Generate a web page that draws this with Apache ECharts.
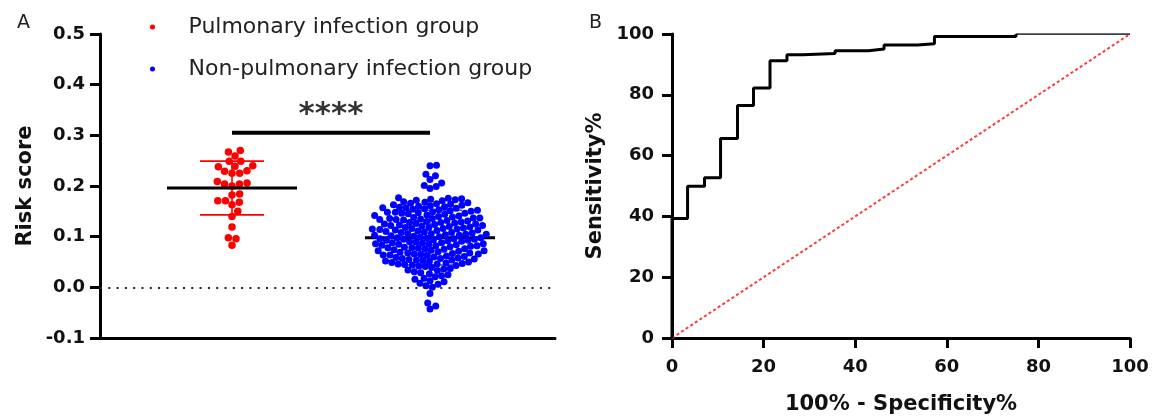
<!DOCTYPE html>
<html>
<head>
<meta charset="utf-8">
<script src="https://cdn.jsdelivr.net/npm/echarts@6/dist/echarts.min.js"></script>
<style>
html,body{margin:0;padding:0;background:#fff;}
#chart{width:1156px;height:420px;}
</style>
</head>
<body>
<div id="chart"></div>
<script>
// ---------------- DATA ----------------
const groups = ['Pulmonary infection group', 'Non-pulmonary infection group'];
const groupColors = ['#ff0000', '#0000ff'];

const pulmonaryScores = [
  0.267, 0.270, 0.259, 0.249, 0.249, 0.238, 0.240, 0.239, 0.225, 0.225,
  0.230, 0.229, 0.204, 0.209, 0.206, 0.204, 0.200, 0.184, 0.182, 0.171,
  0.171, 0.168, 0.163, 0.150, 0.140, 0.119, 0.098, 0.096, 0.083
];

const nonPulmonaryScores = [
  0.241, 0.240, 0.223, 0.220, 0.213, 0.206, 0.201, 0.199, 0.195,
  0.177, 0.175, 0.174, 0.172, 0.171, 0.176, 0.173,
  0.169, 0.167, 0.166, 0.164, 0.163, 0.168, 0.161, 0.165, 0.162, 0.160,
  0.159, 0.157, 0.158, 0.155, 0.154, 0.156, 0.152, 0.153, 0.151, 0.157, 0.150,
  0.149, 0.148, 0.146, 0.147, 0.145, 0.143, 0.144, 0.142, 0.141, 0.146, 0.140, 0.148,
  0.139, 0.137, 0.138, 0.136, 0.134, 0.135, 0.133, 0.131, 0.132, 0.130, 0.137, 0.134, 0.136,
  0.129, 0.128, 0.126, 0.127, 0.125, 0.123, 0.124, 0.122, 0.121, 0.120, 0.128, 0.125, 0.122,
  0.119, 0.117, 0.118, 0.116, 0.115, 0.113, 0.114, 0.112, 0.111, 0.110, 0.118, 0.115, 0.113, 0.116,
  0.109, 0.108, 0.106, 0.107, 0.105, 0.104, 0.102, 0.103, 0.101, 0.100, 0.108, 0.105, 0.103, 0.106,
  0.099, 0.097, 0.098, 0.096, 0.095, 0.094, 0.092, 0.093, 0.091, 0.090, 0.098, 0.095, 0.093, 0.096,
  0.089, 0.088, 0.086, 0.087, 0.085, 0.083, 0.084, 0.082, 0.081, 0.080, 0.088, 0.085, 0.082, 0.086,
  0.079, 0.077, 0.078, 0.076, 0.074, 0.075, 0.073, 0.072, 0.071, 0.070, 0.078, 0.075, 0.072,
  0.069, 0.068, 0.066, 0.067, 0.065, 0.063, 0.064, 0.062, 0.061, 0.060, 0.068, 0.064, 0.066,
  0.059, 0.057, 0.058, 0.056, 0.055, 0.053, 0.054, 0.052, 0.051, 0.050, 0.057, 0.054,
  0.049, 0.048, 0.046, 0.047, 0.045, 0.043, 0.044, 0.042, 0.041, 0.046,
  0.039, 0.037, 0.036, 0.034, 0.033, 0.031,
  0.029, 0.027, 0.025, 0.023, 0.021,
  0.018, 0.016, 0.013, 0.011,
  0.008, 0.006, 0.003,
  0.000, -0.012, -0.031, -0.037, -0.043
];

const groupMeans = [0.196, 0.098];
const groupSDs = [0.053, 0.054];
const significanceLabel = '****';
const significanceLevel = 0.305;

const riskAxis = { min: -0.1, max: 0.5, interval: 0.1 };

// ROC curve (100% - specificity %, sensitivity %)
const rocFpr = [0, 0, 3.4, 7.1, 10.6, 14.3, 17.8, 21.4, 25.1, 28.6, 35.6, 42.9, 46.3, 53.6, 57.3, 75.1, 100];
const rocTpr = [0, 39.3, 49.9, 52.7, 65.6, 76.5, 82.2, 91.2, 93.2, 93.6, 94.5, 95.1, 96.4, 96.8, 99.2, 100, 100];
const chanceFpr = [0, 100];
const chanceTpr = [0, 100];
const rocAxis = { min: 0, max: 100, interval: 20 };

// ---------------- LAYOUT ----------------
const FONT = 'DejaVu Sans';
const gridA = { left: 100, top: 34, width: 455, height: 304 };
const gridB = { left: 672, top: 34, width: 458, height: 304 };
const groupX = [1, 2];
const groupPx = [232, 430];          // pixel centres of the two columns
const pxPerX = (groupPx[1] - groupPx[0]) / (groupX[1] - groupX[0]);
const xMinA = groupX[0] - (groupPx[0] - gridA.left) / pxPerX;
const xMaxA = xMinA + gridA.width / pxPerX;
const pxPerY = gridA.height / (riskAxis.max - riskAxis.min);

// beeswarm layout: horizontal offsets so markers do not overlap
function swarm(values, cx, diam) {
  const order = values.map((v, i) => i).sort((a, b) => values[a] - values[b]);
  const placed = [];
  const out = new Array(values.length);
  const d2 = diam * diam;
  for (const i of order) {
    const y = values[i] * pxPerY;
    const cands = [0];
    for (const p of placed) {
      const dy = Math.abs(p.y - y);
      if (dy < diam) {
        const dx = Math.sqrt(d2 - dy * dy);
        cands.push(p.x + dx, p.x - dx);
      }
    }
    cands.sort((a, b) => Math.abs(a) - Math.abs(b));
    let x = 0;
    for (const c of cands) {
      let ok = true;
      for (const p of placed) {
        const ddx = p.x - c, ddy = p.y - y;
        if (ddx * ddx + ddy * ddy < d2 - 1e-6) { ok = false; break; }
      }
      if (ok) { x = c; break; }
    }
    placed.push({ x, y });
    out[i] = [cx + x / pxPerX, values[i]];
  }
  return out;
}

function errorSeries(idx, z, capColor) {
  return {
    type: 'custom', xAxisIndex: 0, yAxisIndex: 0, z: z, silent: true,
    data: [[groupX[idx], groupMeans[idx], groupSDs[idx]]],
    renderItem: function (params, api) {
      const x = api.value(0), m = api.value(1), sd = api.value(2);
      const pm = api.coord([x, m]);
      const ph = api.coord([x, m + sd]);
      const pl = api.coord([x, m - sd]);
      const halfMean = 65, halfCap = 32;
      const ws = { stroke: capColor, lineWidth: 1.6 };
      return {
        type: 'group',
        children: [
          { type: 'line', shape: { x1: ph[0], y1: ph[1], x2: pl[0], y2: pl[1] }, style: ws },
          { type: 'line', shape: { x1: ph[0] - halfCap, y1: ph[1], x2: ph[0] + halfCap, y2: ph[1] }, style: ws },
          { type: 'line', shape: { x1: pl[0] - halfCap, y1: pl[1], x2: pl[0] + halfCap, y2: pl[1] }, style: ws },
          { type: 'line', shape: { x1: pm[0] - halfMean, y1: pm[1], x2: pm[0] + halfMean, y2: pm[1] }, style: { stroke: '#000', lineWidth: 3 } }
        ]
      };
    }
  };
}

const tickLabel = { fontFamily: FONT, fontWeight: 'bold', fontSize: 18, color: '#111' };
const nameStyle = { fontFamily: FONT, fontWeight: 'bold', fontSize: 21, color: '#111' };
const axLine = { show: true, onZero: false, lineStyle: { color: '#000', width: 3 } };
const axTick = { show: true, length: 10, lineStyle: { color: '#000', width: 3 } };

const chart = echarts.init(document.getElementById('chart'), null, { renderer: 'canvas' });

const option = {
  animation: false,
  backgroundColor: '#fff',
  title: [
    { text: 'A', left: 12, top: 9, textStyle: { fontFamily: FONT, fontWeight: 'normal', fontSize: 19, color: '#222' } },
    { text: 'B', left: 584, top: 9, textStyle: { fontFamily: FONT, fontWeight: 'normal', fontSize: 19, color: '#222' } }
  ],
  legend: {
    data: groups,
    orient: 'vertical',
    left: 150, top: 16, padding: 0,
    itemWidth: 62, itemHeight: 5, itemGap: 20,
    icon: 'circle',
    textStyle: { fontFamily: FONT, fontSize: 22, color: '#222' }
  },
  grid: [
    Object.assign({ containLabel: false }, gridA),
    Object.assign({ containLabel: false }, gridB)
  ],
  xAxis: [
    {
      gridIndex: 0, type: 'value', min: xMinA, max: xMaxA,
      axisLine: axLine, axisTick: { show: false }, axisLabel: { show: false }, splitLine: { show: false }
    },
    {
      gridIndex: 1, type: 'value', min: rocAxis.min, max: rocAxis.max, interval: rocAxis.interval,
      axisLine: axLine, axisTick: axTick,
      axisLabel: Object.assign({ margin: 20 }, tickLabel),
      splitLine: { show: false },
      name: '100% - Specificity%', nameLocation: 'middle', nameGap: 56, nameTextStyle: nameStyle
    }
  ],
  yAxis: [
    {
      gridIndex: 0, type: 'value', min: riskAxis.min, max: riskAxis.max, interval: riskAxis.interval,
      axisLine: axLine, axisTick: axTick,
      axisLabel: Object.assign({ margin: 15, formatter: v => v.toFixed(1) }, tickLabel),
      splitLine: { show: false },
      name: 'Risk score', nameLocation: 'middle', nameRotate: 90, nameGap: 64, nameTextStyle: nameStyle
    },
    {
      gridIndex: 1, type: 'value', min: rocAxis.min, max: rocAxis.max, interval: rocAxis.interval,
      axisLine: axLine, axisTick: axTick,
      axisLabel: Object.assign({ margin: 18 }, tickLabel),
      splitLine: { show: false },
      name: 'Sensitivity%', nameLocation: 'middle', nameRotate: 90, nameGap: 66, nameTextStyle: nameStyle
    }
  ],
  series: [
    // blue mean / SD under points
    errorSeries(1, 1, '#4040ff'),
    {
      name: groups[1], type: 'scatter', xAxisIndex: 0, yAxisIndex: 0, z: 2,
      symbol: 'circle', symbolSize: 7,
      itemStyle: { color: groupColors[1], opacity: 1 },
      data: swarm(nonPulmonaryScores, groupX[1], 6.5),
      markLine: {
        silent: true, symbol: 'none', label: { show: false },
        lineStyle: { color: '#222', width: 2, type: [2, 6.3] },
        data: [{ yAxis: 0 }]
      }
    },
    {
      name: groups[0], type: 'scatter', xAxisIndex: 0, yAxisIndex: 0, z: 2,
      symbol: 'circle', symbolSize: 7.5,
      itemStyle: { color: groupColors[0], opacity: 1 },
      data: swarm(pulmonaryScores, groupX[0], 7.7)
    },
    errorSeries(0, 3, groupColors[0]),
    // significance bracket
    {
      type: 'line', xAxisIndex: 0, yAxisIndex: 0, z: 3, silent: true,
      symbol: 'none', lineStyle: { color: '#000', width: 4 },
      data: [[groupX[0], significanceLevel], [groupX[1], significanceLevel]]
    },
    {
      type: 'scatter', xAxisIndex: 0, yAxisIndex: 0, z: 3, silent: true,
      symbolSize: 0,
      data: [[(groupX[0] + groupX[1]) / 2, significanceLevel]],
      label: {
        show: true, position: 'top', distance: 2,
        formatter: significanceLabel,
        fontFamily: FONT, fontWeight: 'bold', fontSize: 31, color: '#000'
      }
    },
    // ROC panel
    {
      type: 'line', xAxisIndex: 1, yAxisIndex: 1, z: 2, silent: true,
      symbol: 'none',
      lineStyle: { color: '#ff3b3b', width: 2, type: [3, 2.5] },
      data: chanceFpr.map((f, i) => [f, chanceTpr[i]])
    },
    {
      type: 'line', xAxisIndex: 1, yAxisIndex: 1, z: 3, silent: true,
      symbol: 'none', step: 'end',
      lineStyle: { color: '#000', width: 3 },
      data: rocFpr.slice(0, rocFpr.length - 1).map((f, i) => [f, rocTpr[i]])
    },
    {
      type: 'line', xAxisIndex: 1, yAxisIndex: 1, z: 3, silent: true,
      symbol: 'none', step: 'end',
      lineStyle: { color: '#000', width: 1.6 },
      data: rocFpr.slice(rocFpr.length - 2).map((f, i) => [f, rocTpr[rocFpr.length - 2 + i]])
    }
  ]
};

chart.setOption(option);
</script>
</body>
</html>
